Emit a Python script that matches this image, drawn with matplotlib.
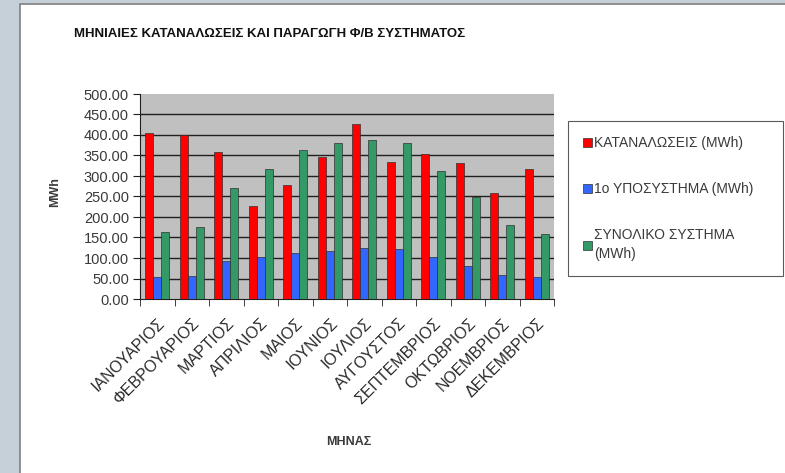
"""
Monthly consumption and PV production chart (Excel-style grouped bars).
"""

import numpy as np
from matplotlib import pyplot as plt
from matplotlib.patches import Rectangle

plt.rcParams["font.family"] = ["Liberation Sans", "DejaVu Sans"]

months = [
    "ΙΑΝΟΥΑΡΙΟΣ", "ΦΕΒΡΟΥΑΡΙΟΣ", "ΜΑΡΤΙΟΣ", "ΑΠΡΙΛΙΟΣ", "ΜΑΙΟΣ", "ΙΟΥΝΙΟΣ",
    "ΙΟΥΛΙΟΣ", "ΑΥΓΟΥΣΤΟΣ", "ΣΕΠΤΕΜΒΡΙΟΣ", "ΟΚΤΩΒΡΙΟΣ", "ΝΟΕΜΒΡΙΟΣ", "ΔΕΚΕΜΒΡΙΟΣ",
]
consumption = [406, 400, 359, 228, 278, 347, 427, 335, 354, 331, 258, 316]
subsystem_1 = [53, 57, 93, 102, 113, 118, 124, 121, 102, 80, 59, 54]
total_system = [164, 175, 270, 316, 363, 380, 388, 380, 311, 248, 180, 158]

series_labels = [
    "ΚΑΤΑΝΑΛΩΣΕΙΣ (MWh)",
    "1ο ΥΠΟΣΥΣΤΗΜΑ (MWh)",
    "ΣΥΝΟΛΙΚΟ ΣΥΣΤΗΜΑ\n(MWh)",
]
colors = ["#ff0000", "#3366ff", "#339966"]
text_color = "#3a3a3a"

fig = plt.figure(figsize=(7.85, 4.73), dpi=100)
fig.patch.set_facecolor("#c6d0d8")
fig.patches.append(
    Rectangle((20 / 785, -0.1), 1.1, 1 - 4 / 473 + 0.1, transform=fig.transFigure,
              facecolor="white", edgecolor="#808080", linewidth=1.2, zorder=-10)
)

ax = fig.add_axes([140 / 785, 1 - 299 / 473, 414 / 785, 205 / 473])
ax.set_facecolor("#c0c0c0")

x = np.arange(len(months))
width = 0.235
for i, (vals, col, lab) in enumerate(zip([consumption, subsystem_1, total_system], colors, series_labels)):
    ax.bar(x + (i - 1) * width, vals, width, color=col, edgecolor="#303030",
           linewidth=0.5, label=lab, zorder=3)

ax.set_xlim(-0.5, len(months) - 0.5)
ax.set_ylim(0, 500)
ax.set_yticks(np.arange(0, 501, 50))
ax.set_yticklabels([f"{v:.2f}" for v in np.arange(0, 501, 50)], color=text_color, fontsize=10.5)
for v in np.arange(50, 500, 50):
    ax.axhline(v, color="#202020", linewidth=1.0, zorder=1)

ax.set_xticks(x)
ax.set_xticklabels(months, rotation=45, ha="right", rotation_mode="anchor",
                   fontsize=11.5, color="#2a2a2a")
ax.tick_params(axis="x", length=0, pad=12)
ax.set_xticks(np.arange(-0.5, len(months)), minor=True)
ax.tick_params(axis="x", which="minor", length=5, color="#202020")
ax.tick_params(axis="y", length=5, color="#202020", pad=3)

for side in ["top", "right"]:
    ax.spines[side].set_visible(False)
ax.spines["left"].set_color("#202020")
ax.spines["bottom"].set_color("#202020")

fig.text(270 / 785, 1 - 34 / 473, "ΜΗΝΙΑΙΕΣ ΚΑΤΑΝΑΛΩΣΕΙΣ ΚΑΙ ΠΑΡΑΓΩΓΗ Φ/Β ΣΥΣΤΗΜΑΤΟΣ",
         ha="center", va="center", fontsize=9.5, fontweight="bold", color="#111111")
fig.text(55 / 785, 1 - 192 / 473, "MWh", rotation=90, ha="center", va="center",
         fontsize=9, fontweight="bold", color=text_color)
fig.text(349 / 785, 1 - 442 / 473, "ΜΗΝΑΣ", ha="center", va="center",
         fontsize=9, fontweight="bold", color=text_color)

leg = fig.legend(loc="upper left",
                 bbox_to_anchor=(568 / 785, 1 - 275 / 473, 215 / 785, 154 / 473),
                 mode="expand", fontsize=10, frameon=True, fancybox=False,
                 edgecolor="#303030", handlelength=0.6, handleheight=0.6,
                 handletextpad=0.2, labelspacing=2.3, borderpad=1.1, borderaxespad=0)
leg.get_frame().set_linewidth(0.8)
for t in leg.get_texts():
    t.set_color(text_color)
    t.set_linespacing(1.45)

plt.savefig("out.png", dpi=100, facecolor=fig.get_facecolor())
